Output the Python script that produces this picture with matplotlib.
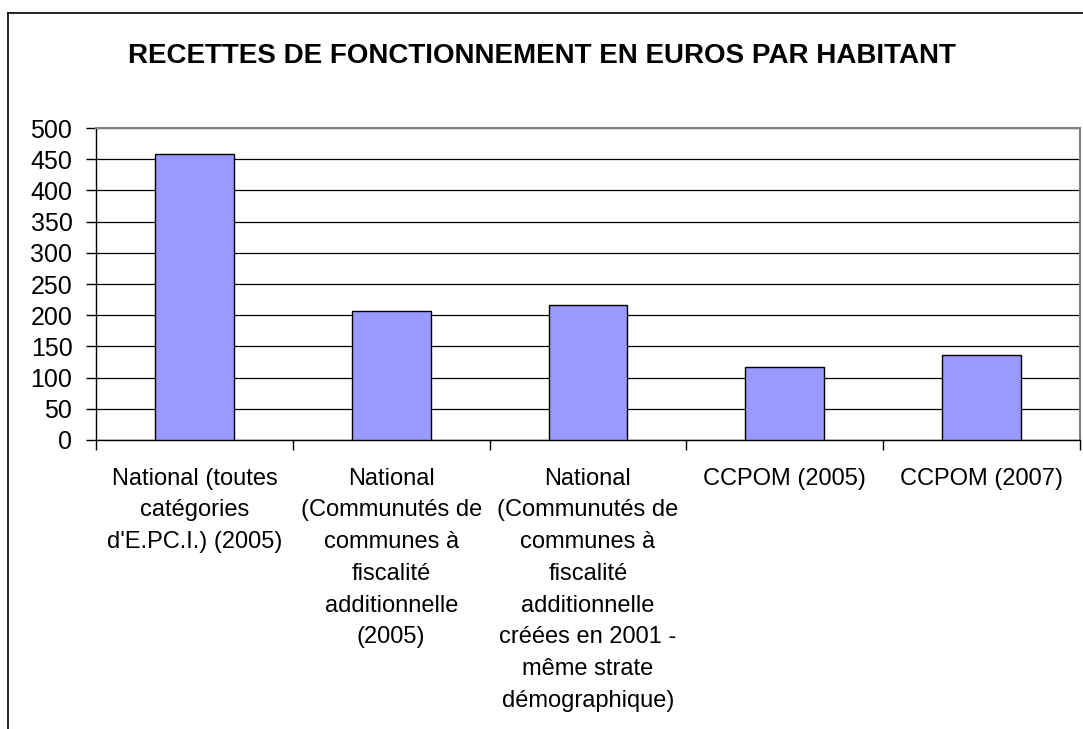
import matplotlib
matplotlib.use("Agg")
import matplotlib.pyplot as plt
from matplotlib.lines import Line2D
import numpy as np

plt.rcParams['font.family'] = ['Liberation Sans', 'DejaVu Sans']

# data
categories = [
    "National (toutes\ncatégories\nd'E.PC.I.) (2005)",
    "National\n(Communutés de\ncommunes à\nfiscalité\nadditionnelle\n(2005)",
    "National\n(Communutés de\ncommunes à\nfiscalité\nadditionnelle\ncréées en 2001 -\nmême strate\ndémographique)",
    "CCPOM (2005)",
    "CCPOM (2007)",
]
values = [459, 207, 217, 117, 137]
yticks = list(range(0, 501, 50))

fig = plt.figure(figsize=(10.83, 7.29), dpi=100)
ax = fig.add_axes([96 / 1083, 1 - 440 / 729, (1080 - 96) / 1083, (440 - 128) / 729])

x = np.arange(len(categories))
ax.bar(x, values, width=0.4, color="#9999FF", edgecolor="black", linewidth=1.0, zorder=3)

ax.set_xlim(-0.5, len(categories) - 0.5)
ax.set_ylim(0, 500)
ax.set_yticks(yticks)
ax.set_yticklabels([str(v) for v in yticks], fontsize=18)

# ticks on category boundaries, labels centred under bars
ax.set_xticks(np.arange(-0.5, len(categories), 1.0))
ax.set_xticklabels([])
ax.set_xticks(x, minor=True)
ax.set_xticklabels(categories, minor=True, fontsize=17, linespacing=1.57, va="top")
ax.tick_params(axis="x", which="minor", length=0, pad=20)
ax.tick_params(axis="x", which="major", length=7, width=1, direction="out")
ax.tick_params(axis="y", length=7, width=1, direction="out", pad=10)

ax.grid(axis="y", color="black", linewidth=0.9, zorder=0)
ax.set_axisbelow(True)
for s in ("top", "right"):
    ax.spines[s].set_color("#808080")
    ax.spines[s].set_linewidth(1.5)
for s in ("left", "bottom"):
    ax.spines[s].set_color("black")
    ax.spines[s].set_linewidth(1.0)

fig.text(0.5, 1 - 56 / 729, "RECETTES DE FONCTIONNEMENT EN EUROS PAR HABITANT",
         ha="center", va="center", fontsize=20, fontweight="bold")

# chart frame (only top and left edges fall inside the picture)
fig.add_artist(Line2D([8 / 1083, 1], [1 - 13 / 729, 1 - 13 / 729], color="black", linewidth=1.2,
                      transform=fig.transFigure))
fig.add_artist(Line2D([8 / 1083, 8 / 1083], [0, 1 - 13 / 729], color="black", linewidth=1.2,
                      transform=fig.transFigure))

fig.savefig("out.png", dpi=100)
